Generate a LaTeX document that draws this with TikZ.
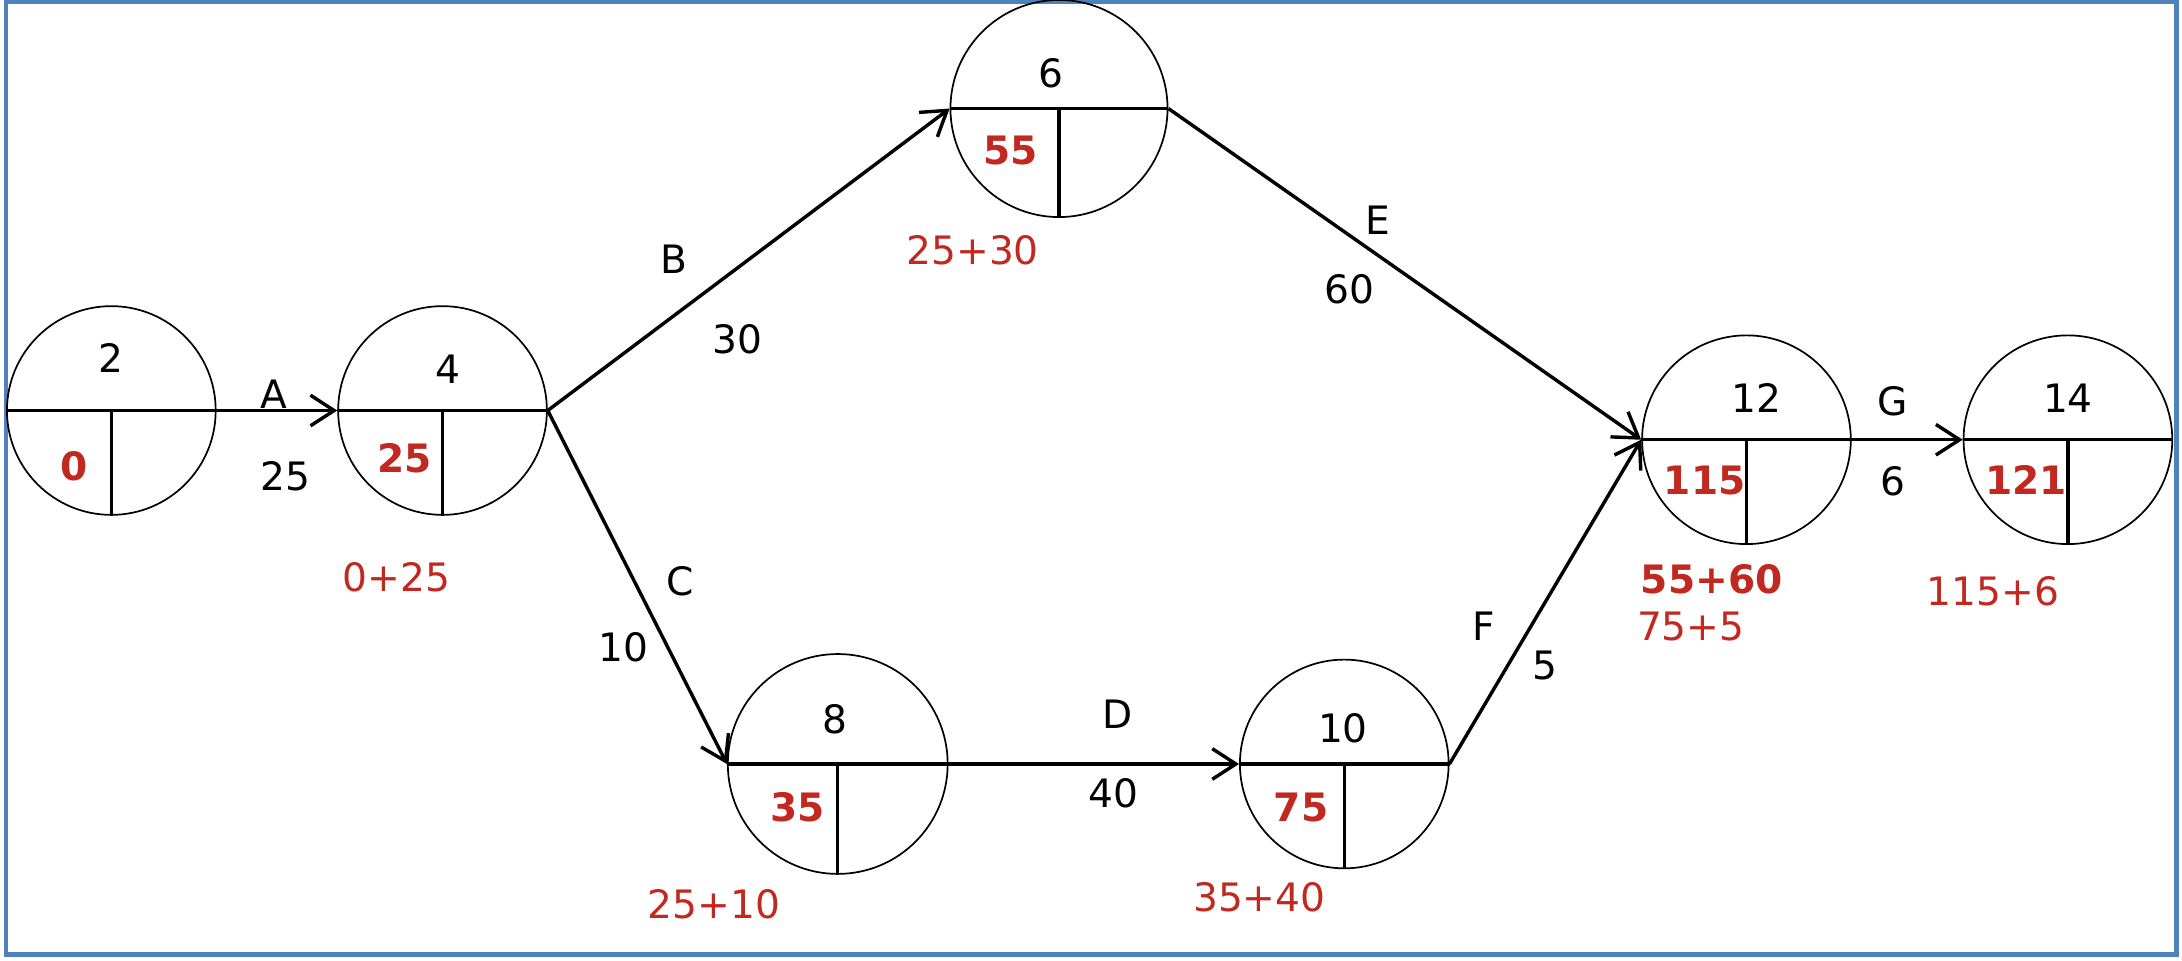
\documentclass[tikz,border=0pt]{standalone}
\usepackage{fontspec}
\setmainfont{DejaVu Sans}
\usetikzlibrary{arrows.meta}
\definecolor{frameblue}{RGB}{79,129,189}
\definecolor{esred}{RGB}{192,40,32}

\begin{document}
\begin{tikzpicture}[
    event/.style={draw, circle, line width=0.35pt, minimum size=1.5cm, inner sep=0pt},
    divider/.style={line width=0.7pt},
    act/.style={line width=0.7pt, -{Straight Barb[length=1.7mm, width=2.2mm]}},
    txt/.style={font=\fontsize{8}{9.6}\selectfont, inner sep=0pt},
    est/.style={txt, text=esred, font=\fontsize{8}{9.6}\selectfont\bfseries},
    sumtxt/.style={txt, text=esred}
]
    \useasboundingbox (0, 0) rectangle (15.68, 6.90);
    \draw[frameblue, line width=0.9pt] (0.043, 0.04) rectangle (15.64, 6.89);

    % events
    \node[event] (ev2) at (0.80, 3.95) {};
    \node[event] (ev4) at (3.18, 3.95) {};
    \node[event, minimum size=1.56cm] (ev6) at (7.61, 6.12) {};
    \node[event, minimum size=1.58cm] (ev8) at (6.02, 1.41) {};
    \node[event] (ev10) at (9.66, 1.41) {};
    \node[event] (ev12) at (12.55, 3.74) {};
    \node[event] (ev14) at (14.86, 3.74) {};
    \foreach \n in {2, 4, 6, 8, 10, 12, 14}
        \draw[divider] (ev\n.west) -- (ev\n.east) (ev\n.center) -- (ev\n.south);

    % event numbers
    \node[txt] (num2) at (0.80, 4.33) {2};
    \node[txt] (num4) at (3.22, 4.25) {4};
    \node[txt] (num6) at (7.55, 6.37) {6};
    \node[txt] (num8) at (6.00, 1.73) {8};
    \node[txt] (num10) at (9.65, 1.67) {10};
    \node[txt] (num12) at (12.62, 4.04) {12};
    \node[txt] (num14) at (14.86, 4.04) {14};

    % earliest times
    \node[est] (es2) at (0.53, 3.55) {0};
    \node[est] (es4) at (2.91, 3.61) {25};
    \node[est] (es6) at (7.26, 5.82) {55};
    \node[est] (es8) at (5.73, 1.10) {35};
    \node[est] (es10) at (9.35, 1.10) {75};
    \node[est] (es12) at (12.25, 3.45) {115};
    \node[est] (es14) at (14.56, 3.45) {121};

    % sums
    \node[sumtxt] (sum4) at (2.85, 2.75) {0+25};
    \node[sumtxt] (sum6) at (6.99, 5.10) {25+30};
    \node[sumtxt] (sum8) at (5.13, 0.40) {25+10};
    \node[sumtxt] (sum10) at (9.05, 0.45) {35+40};
    \node[est] (sum12a) at (12.30, 2.74) {55+60};
    \node[sumtxt] (sum12b) at (12.15, 2.40) {75+5};
    \node[sumtxt] (sum14) at (14.32, 2.65) {115+6};

    % activities
    \draw[act] (ev2.east) -- (ev4.west);
    \draw[act] (ev4.east) -- (ev6.west);
    \draw[act] (ev4.east) -- (ev8.west);
    \draw[act] (ev8.east) -- (ev10.west);
    \draw[act] (ev6.east) -- (ev12.west);
    \draw[act] (ev10.east) -- (ev12.west);
    \draw[act] (ev12.east) -- (ev14.west);

    \node[txt] (actA) at (1.97, 4.07) {A};
    \node[txt] (durA) at (2.05, 3.48) {25};
    \node[txt] (actB) at (4.84, 5.04) {B};
    \node[txt] (durB) at (5.30, 4.46) {30};
    \node[txt] (actC) at (4.89, 2.72) {C};
    \node[txt] (durC) at (4.48, 2.25) {10};
    \node[txt] (actD) at (8.03, 1.77) {D};
    \node[txt] (durD) at (8.00, 1.20) {40};
    \node[txt] (actE) at (9.90, 5.32) {E};
    \node[txt] (durE) at (9.70, 4.82) {60};
    \node[txt] (actF) at (10.66, 2.40) {F};
    \node[txt] (durF) at (11.10, 2.12) {5};
    \node[txt] (actG) at (13.60, 4.02) {G};
    \node[txt] (durG) at (13.60, 3.44) {6};
\end{tikzpicture}
\end{document}
